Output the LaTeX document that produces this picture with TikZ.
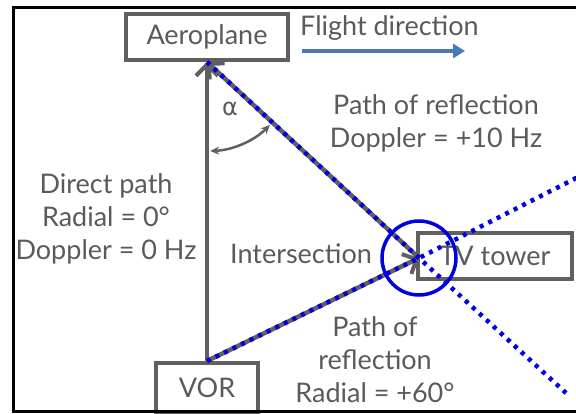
\documentclass[tikz,border=0pt]{standalone}
\usepackage{fontspec}
\setmainfont{Lato}
\newfontfamily\grkfont{DejaVu Sans}
\usetikzlibrary{arrows.meta}
\definecolor{dgray}{RGB}{96,96,96}
\definecolor{tgray}{RGB}{90,90,90}
\definecolor{vblue}{RGB}{0,0,225}
\definecolor{fblue}{RGB}{72,120,190}
\tikzset{
  box/.style={draw=dgray, line width=4pt, fill=white, inner sep=0pt, text=tgray, font=\fontsize{27}{33}\selectfont},
  lbl/.style={text=tgray, font=\fontsize{27}{33}\selectfont, align=center, inner sep=0pt},
  gline/.style={draw=dgray, line width=4.5pt},
  barb/.style={-{Straight Barb[length=11pt,width=22pt,line width=4pt]}},
  bdots/.style={draw=vblue, line width=4.5pt, dash pattern=on 4pt off 5.5pt},
}
\begin{document}
\begin{tikzpicture}[x=1pt,y=-1pt]
\useasboundingbox (0,0) rectangle (576,414);
\clip (0,0) rectangle (576,414);
\fill[white] (0,0) rectangle (576,414);
% nodes
\node[box, minimum width=162pt, minimum height=46pt] (aero) at (207,37) {Aeroplane};
\node[box, minimum width=102pt, minimum height=50pt] (vor) at (207,388) {VOR};
\node[box, minimum width=154pt, minimum height=46pt] (tv) at (495,256) {TV tower};
\coordinate (isect) at (419,258);
\coordinate (e1) at (566,393);
\coordinate (e2) at (590,171);
% gray paths
\draw[gline, barb] (vor.north) -- (aero.south);
\draw[gline, barb] (isect) -- (aero.south);
\draw[gline, barb] (vor.north) -- (isect);
% blue dotted overlays
\draw[bdots] (aero.south) -- (isect) -- (e1);
\draw[bdots] (vor.north) -- (isect) -- (e2);
% circle
\node[draw=vblue, line width=3.5pt, circle, minimum size=74pt, inner sep=0pt] (circ) at (isect) {};
% angle alpha
\draw[draw=dgray, line width=2.5pt, {Stealth[length=9pt,width=8pt]}-{Stealth[length=9pt,width=8pt]}]
  (aero.south) ++(88:89) arc (88:45:89);
\node[text=tgray, font=\grkfont\fontsize{24}{28}\selectfont] (alpha) at (230,109) {α};
% flight direction
\node[lbl, anchor=west] (flt) at (300,28) {Flight direction};
\coordinate (fa) at (302,51);
\coordinate (fb) at (465,51);
\draw[draw=fblue, line width=4.5pt, -{Triangle[length=12pt,width=14pt]}] (fa) -- (fb);
% labels
\node[lbl] (pr1) at (436,123) {Path of reflection\\Doppler = +10 Hz};
\node[lbl] (dp) at (106,219) {Direct path\\Radial = 0°\\Doppler = 0 Hz};
\node[lbl] (is) at (301,254) {Intersection};
\node[lbl] (pr2) at (375,360) {Path of\\reflection\\Radial = +60°};
% frame
\draw[black, line width=3pt] (13,8) rectangle (600,411);
\end{tikzpicture}
\end{document}
